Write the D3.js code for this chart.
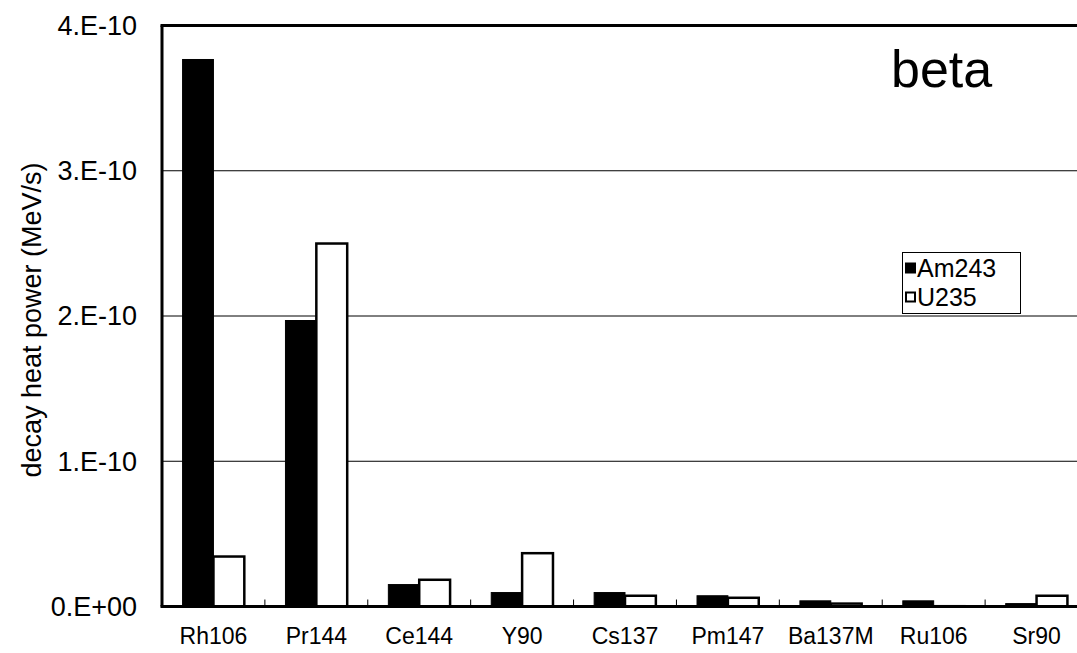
<!DOCTYPE html>
<html><head><meta charset="utf-8">
<script src="https://cdn.jsdelivr.net/npm/d3@7"></script>
<style>body{margin:0;background:#fff}svg{display:block;font-family:"Liberation Sans",Arial,sans-serif}</style>
</head><body>
<svg id="c" width="1077" height="653"></svg>
<script>
const categories = ["Rh106","Pr144","Ce144","Y90","Cs137","Pm147","Ba137M","Ru106","Sr90"];
const am243 = [3.766e-10,1.969e-10,0.151e-10,0.096e-10,0.096e-10,0.074e-10,0.039e-10,0.039e-10,0.020e-10];
const u235  = [0.344e-10,2.499e-10,0.184e-10,0.367e-10,0.074e-10,0.060e-10,0.020e-10,0.002e-10,0.074e-10];
const seriesNames = ["Am243","U235"];
const yTicks = [0,1e-10,2e-10,3e-10,4e-10];
const yTickLabels = ["0.E+00","1.E-10","2.E-10","3.E-10","4.E-10"];

const svg = d3.select("#c");
const L = 162, T = 25.5, B = 606.5, R = 1088;
const x = d3.scaleBand().domain(categories).range([L, R]).padding(0);
const y = d3.scaleLinear().domain([0, 4e-10]).range([B, T]);
const bw = x.bandwidth();

// gridlines
svg.append("g").selectAll("line").data(yTicks.slice(1,4)).join("line")
  .attr("x1", L).attr("x2", 1077).attr("y1", d => y(d)).attr("y2", d => y(d))
  .attr("stroke", "#000").attr("stroke-width", 1);

// bars
const g = svg.append("g");
categories.forEach((c, i) => {
  const x0 = x(c) + bw * 0.2, w = bw * 0.3;
  g.append("rect").attr("x", x0).attr("width", w)
    .attr("y", y(am243[i])).attr("height", Math.max(0, B - y(am243[i])))
    .attr("fill", "#000").attr("stroke", "#000").attr("stroke-width", 1);
  g.append("rect").attr("x", x0 + w).attr("width", w)
    .attr("y", y(u235[i])).attr("height", Math.max(0, B - y(u235[i])))
    .attr("fill", "#fff").attr("stroke", "#000").attr("stroke-width", 2.5);
});

// frame: top line, left axis, bottom axis
svg.append("line").attr("x1", L - 1.5).attr("x2", 1077).attr("y1", T).attr("y2", T).attr("stroke", "#000").attr("stroke-width", 3);
svg.append("line").attr("x1", L).attr("x2", L).attr("y1", T).attr("y2", B).attr("stroke", "#000").attr("stroke-width", 3);
svg.append("line").attr("x1", L - 1.5).attr("x2", 1077).attr("y1", B).attr("y2", B).attr("stroke", "#000").attr("stroke-width", 3);

// category boundary ticks (inward)
svg.append("g").selectAll("line").data(categories.slice(1)).join("line")
  .attr("x1", d => x(d)).attr("x2", d => x(d)).attr("y1", B).attr("y2", B - 7)
  .attr("stroke", "#000").attr("stroke-width", 1);

// y tick labels
svg.append("g").selectAll("text").data(yTicks).join("text")
  .attr("x", 137).attr("y", d => y(d)).attr("dy", "0.35em")
  .attr("text-anchor", "end").attr("font-size", 27)
  .text((d, i) => yTickLabels[i]);

// category labels
svg.append("g").selectAll("text").data(categories).join("text")
  .attr("x", d => x(d) + bw / 2).attr("y", 644)
  .attr("text-anchor", "middle").attr("font-size", 23)
  .text(d => d);

// y title
svg.append("text").attr("transform", "translate(41,320) rotate(-90)")
  .attr("text-anchor", "middle").attr("font-size", 27)
  .text("decay heat power (MeV/s)");

// beta label
svg.append("text").attr("x", 891).attr("y", 87).attr("font-size", 52).text("beta");

// legend
const lg = svg.append("g");
lg.append("rect").attr("x", 902.5).attr("y", 252.5).attr("width", 118).attr("height", 61)
  .attr("fill", "#fff").attr("stroke", "#000").attr("stroke-width", 1);
const rowsY = [268, 297];
seriesNames.forEach((s, i) => {
  lg.append("rect").attr("x", 906).attr("y", rowsY[i] - 4.5).attr("width", 9).attr("height", 9)
    .attr("fill", i === 0 ? "#000" : "#fff").attr("stroke", "#000").attr("stroke-width", 2);
  lg.append("text").attr("x", 917).attr("y", rowsY[i]).attr("dy", "0.35em")
    .attr("font-size", 25).text(s);
});
</script>
</body></html>
